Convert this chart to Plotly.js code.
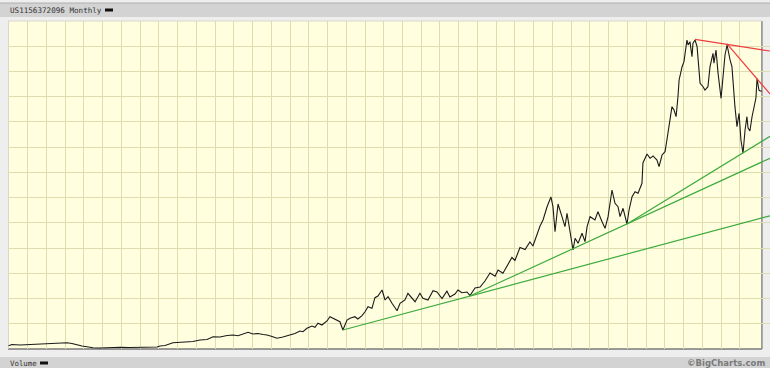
<!DOCTYPE html>
<html><head><meta charset="utf-8">
<script src="https://cdn.plot.ly/plotly-3.0.1.min.js"></script>
<style>html,body{margin:0;padding:0;background:#eeeeee;}#chart{width:770px;height:368px;}</style>
</head><body><div id="chart"></div>
<script>
// Monthly price series (decimal year, price in arbitrary chart units)
const years = [1983.98,1984.16,1984.59,1985.12,1985.66,1986.19,1986.72,1987.10,1987.36,1987.63,1987.90,1988.16,1988.48,1988.86,1989.39,1989.93,1990.46,1990.99,1991.53,1991.90,1992.06,1992.33,1992.75,1993.13,1993.50,1993.82,1994.19,1994.57,1994.89,1995.26,1995.64,1995.96,1996.22,1996.49,1996.76,1997.02,1997.29,1997.56,1997.77,1998.04,1998.30,1998.62,1999.00,1999.26,1999.53,1999.69,1999.90,2000.17,2000.33,2000.49,2000.70,2000.97,2001.13,2001.29,2001.50,2001.66,2001.82,2002.04,2002.20,2002.46,2002.62,2002.84,2003.00,2003.16,2003.37,2003.53,2003.69,2003.91,2004.07,2004.23,2004.44,2004.71,2004.87,2005.13,2005.29,2005.51,2005.67,2005.93,2006.09,2006.36,2006.63,2006.84,2007.11,2007.37,2007.53,2007.80,2007.96,2008.17,2008.44,2008.60,2008.87,2009.14,2009.40,2009.67,2009.94,2010.10,2010.36,2010.58,2010.84,2011.00,2011.27,2011.54,2011.80,2011.96,2012.18,2012.34,2012.50,2012.71,2012.92,2013.03,2013.14,2013.30,2013.51,2013.67,2013.78,2013.94,2014.10,2014.21,2014.37,2014.58,2014.74,2014.85,2015.01,2015.27,2015.43,2015.65,2015.81,2015.97,2016.18,2016.34,2016.50,2016.61,2016.77,2016.98,2017.09,2017.25,2017.41,2017.57,2017.78,2017.83,2018.05,2018.21,2018.37,2018.58,2018.69,2018.85,2019.01,2019.11,2019.22,2019.38,2019.49,2019.60,2019.70,2019.76,2019.92,2020.02,2020.18,2020.24,2020.34,2020.45,2020.50,2020.61,2020.72,2020.77,2020.88,2021.04,2021.14,2021.30,2021.41,2021.57,2021.62,2021.73,2021.84,2022.00,2022.10,2022.21,2022.32,2022.37,2022.48,2022.58,2022.64,2022.74,2022.85,2022.96,2023.06,2023.17,2023.28,2023.38,2023.44,2023.54,2023.65,2023.76,2023.86,2023.92,2024.02,2024.08,2024.18];
const prices = [1.31,1.78,1.59,1.78,2.18,2.26,2.38,2.50,2.18,1.59,1.19,0.91,0.48,0.40,0.59,0.67,0.59,0.67,0.67,0.79,1.19,1.39,2.50,2.58,2.89,2.97,3.57,3.77,4.88,4.76,5.35,5.55,5.23,5.95,6.62,5.95,6.14,5.75,5.55,4.95,4.24,4.76,5.55,6.14,7.13,6.86,8.20,9.12,8.60,10.19,9.51,11.10,12.80,12.17,11.49,10.82,7.53,11.49,12.17,12.80,11.89,13.20,14.78,16.77,16.13,20.33,21.01,23.38,19.42,20.73,18.11,15.18,18.11,19.42,22.08,20.10,18.75,22.08,20.10,19.42,23.11,22.59,20.02,22.91,20.61,21.80,23.38,22.31,22.59,21.20,24.18,24.57,26.95,30.12,28.81,31.31,30.00,32.90,36.27,35.08,40.23,39.44,42.41,40.82,45.58,48.75,51.13,56.28,60.25,56.40,46.49,57.47,52.44,48.47,53.78,45.86,39.24,43.88,41.89,45.86,42.53,48.47,52.44,51.13,54.42,50.46,47.84,52.44,63.02,57.75,56.40,52.44,55.77,49.54,55.09,60.36,62.35,61.71,65.67,73.72,77.29,75.58,76.50,74.91,72.25,76.89,78.20,82.84,88.11,96.04,94.73,92.07,100.00,106.62,111.89,113.87,122.47,120.49,121.80,115.85,121.16,122.47,119.82,115.85,105.31,103.96,102.65,103.96,111.89,117.20,113.24,118.51,109.27,99.36,107.93,116.53,120.49,118.51,114.55,111.89,105.31,96.04,88.11,93.42,82.84,77.57,86.80,92.07,87.59,86.40,91.95,96.04,99.48,107.21,102.65,102.26,102.26];

// Trend lines: [start year, start price, end year, end price]
const greenLines = [
  [2001.82, 7.53, 2024.61, 52.8],
  [2008.60, 21.0, 2024.61, 75.6],
  [2016.98, 49.5, 2024.61, 84.3]
];
const redLines = [
  [2020.61, 122.7, 2024.61, 118.1],
  [2022.32, 120.9, 2024.61, 101.1]
];

const title = "US1156372096 Monthly";
const volumeLabel = "Volume";
const credit = "\u00A9BigCharts.com";

// pixel helpers for chrome placement (plot area: x 8..770, y 21..349)
const px = p => (p - 8) / 762;
const py = p => (349 - p) / 328;

const traces = [];
traces.push({x: years, y: prices, mode:'lines', line:{color:'#1a1a1a', width:1.1}, hoverinfo:'skip', showlegend:false});
greenLines.forEach(l => traces.push({x:[l[0], l[2]], y:[l[1], l[3]], mode:'lines', line:{color:'#3caa3c', width:1.2}, hoverinfo:'skip', showlegend:false}));
redLines.forEach(l => traces.push({x:[l[0], l[2]], y:[l[1], l[3]], mode:'lines', line:{color:'#f03c3c', width:1.2}, hoverinfo:'skip', showlegend:false}));

const xTicks = [];
for (let yv = 1985; yv <= 2023; yv++) xTicks.push(yv);
const yTicks = [];
for (let v = 10; v <= 120; v += 10) yTicks.push(v);

const xRight = 2024.18;
const layout = {
  width: 770, height: 368, autosize: false,
  margin: {l: 8, r: 0, t: 21, b: 19, pad: 0},
  paper_bgcolor: '#eeeeee', plot_bgcolor: '#ffffe0',
  showlegend: false,
  xaxis: {range: [1983.949, 2024.611], tickvals: xTicks, showticklabels: false, ticks: '', showgrid: true, gridcolor: '#deddaf', gridwidth: 1, zeroline: false, showline: false, fixedrange: true},
  yaxis: {range: [0, 130], tickvals: yTicks, showticklabels: false, ticks: '', showgrid: true, gridcolor: '#deddaf', gridwidth: 1, zeroline: false, showline: false, fixedrange: true},
  shapes: [
    {type:'rect', xref:'x', yref:'paper', x0:xRight, x1:2024.7, y0:-0.01, y1:1.01, fillcolor:'#eeeeee', line:{width:0}, layer:'between'},
    {type:'line', xref:'x', yref:'paper', x0:xRight, x1:xRight, y0:0, y1:1, line:{color:'#8a8a8a', width:1.5}, layer:'between'},
    {type:'line', xref:'x', yref:'paper', x0:1983.949, x1:xRight, y0:0, y1:0, line:{color:'#7a7a7a', width:1.5}, layer:'between'},
    {type:'line', xref:'x', yref:'paper', x0:1983.96, x1:1983.96, y0:0, y1:1, line:{color:'#c8c8c0', width:1}, layer:'between'},
    {type:'line', xref:'x', yref:'paper', x0:1983.949, x1:xRight, y0:1, y1:1, line:{color:'#d8d8d0', width:1}, layer:'between'},
    {type:'rect', xref:'paper', yref:'paper', x0:px(0), x1:px(770), y0:py(17), y1:py(3), fillcolor:'#d3d3d3', line:{width:0}, layer:'above'},
    {type:'line', xref:'paper', yref:'paper', x0:px(0), x1:px(770), y0:py(3), y1:py(3), line:{color:'#b0b0b0', width:1}, layer:'above'},
    {type:'line', xref:'paper', yref:'paper', x0:px(105), x1:px(113), y0:py(10), y1:py(10), line:{color:'#111', width:3}, layer:'above'},
    {type:'rect', xref:'paper', yref:'paper', x0:px(0), x1:px(770), y0:py(368), y1:py(357), fillcolor:'#d3d3d3', line:{width:0}, layer:'above'},
    {type:'line', xref:'paper', yref:'paper', x0:px(40), x1:px(48), y0:py(363), y1:py(363), line:{color:'#111', width:3}, layer:'above'}
  ],
  annotations: [
    {text: title, xref:'paper', yref:'paper', x:px(8), y:py(10), xanchor:'left', yanchor:'middle', showarrow:false, font:{family:'DejaVu Sans Mono', size:7.6, color:'#333'}},
    {text: volumeLabel, xref:'paper', yref:'paper', x:px(8), y:py(363), xanchor:'left', yanchor:'middle', showarrow:false, font:{family:'DejaVu Sans Mono', size:7.4, color:'#333'}},
    {text: '<b>' + credit + '</b>', xref:'paper', yref:'paper', x:px(767), y:py(363), xanchor:'right', yanchor:'middle', showarrow:false, font:{family:'DejaVu Sans', size:8.5, color:'#7a7a7a'}}
  ]
};
Plotly.newPlot('chart', traces, layout, {staticPlot: true, displayModeBar: false});
</script></body></html>
